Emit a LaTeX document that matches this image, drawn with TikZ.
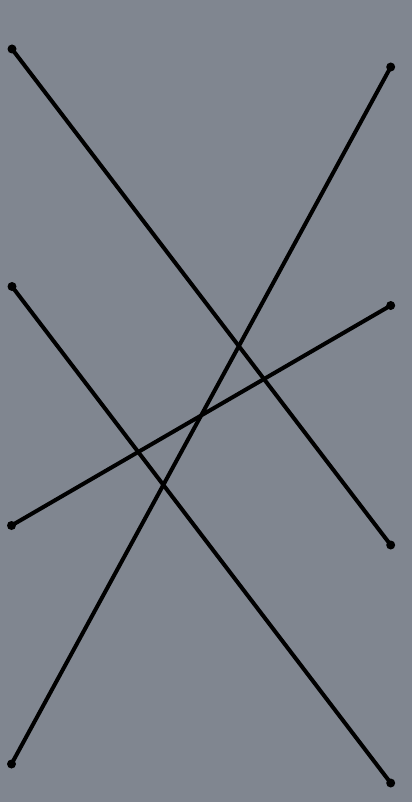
\documentclass[tikz,border=0pt]{standalone}
\definecolor{bg}{RGB}{128,134,144}
\begin{document}
\begin{tikzpicture}[x=1pt,y=-1pt,
  endpt/.style={circle,fill=black,inner sep=0pt,minimum size=9pt},
  seg/.style={line width=4pt,black}]
\fill[bg] (0,0) rectangle (412,802);
\useasboundingbox (0,0) rectangle (412,802);
\node[endpt] (a1) at (12,49) {};
\node[endpt] (a2) at (390.7,545) {};
\node[endpt] (b1) at (390.7,67) {};
\node[endpt] (b2) at (11.5,764) {};
\node[endpt] (c1) at (12,286.5) {};
\node[endpt] (c2) at (390.7,783) {};
\node[endpt] (d1) at (11.5,525.5) {};
\node[endpt] (d2) at (390.7,305.5) {};
\draw[seg] (a1.center) -- (a2.center);
\draw[seg] (b1.center) -- (b2.center);
\draw[seg] (c1.center) -- (c2.center);
\draw[seg] (d1.center) -- (d2.center);
\end{tikzpicture}
\end{document}
